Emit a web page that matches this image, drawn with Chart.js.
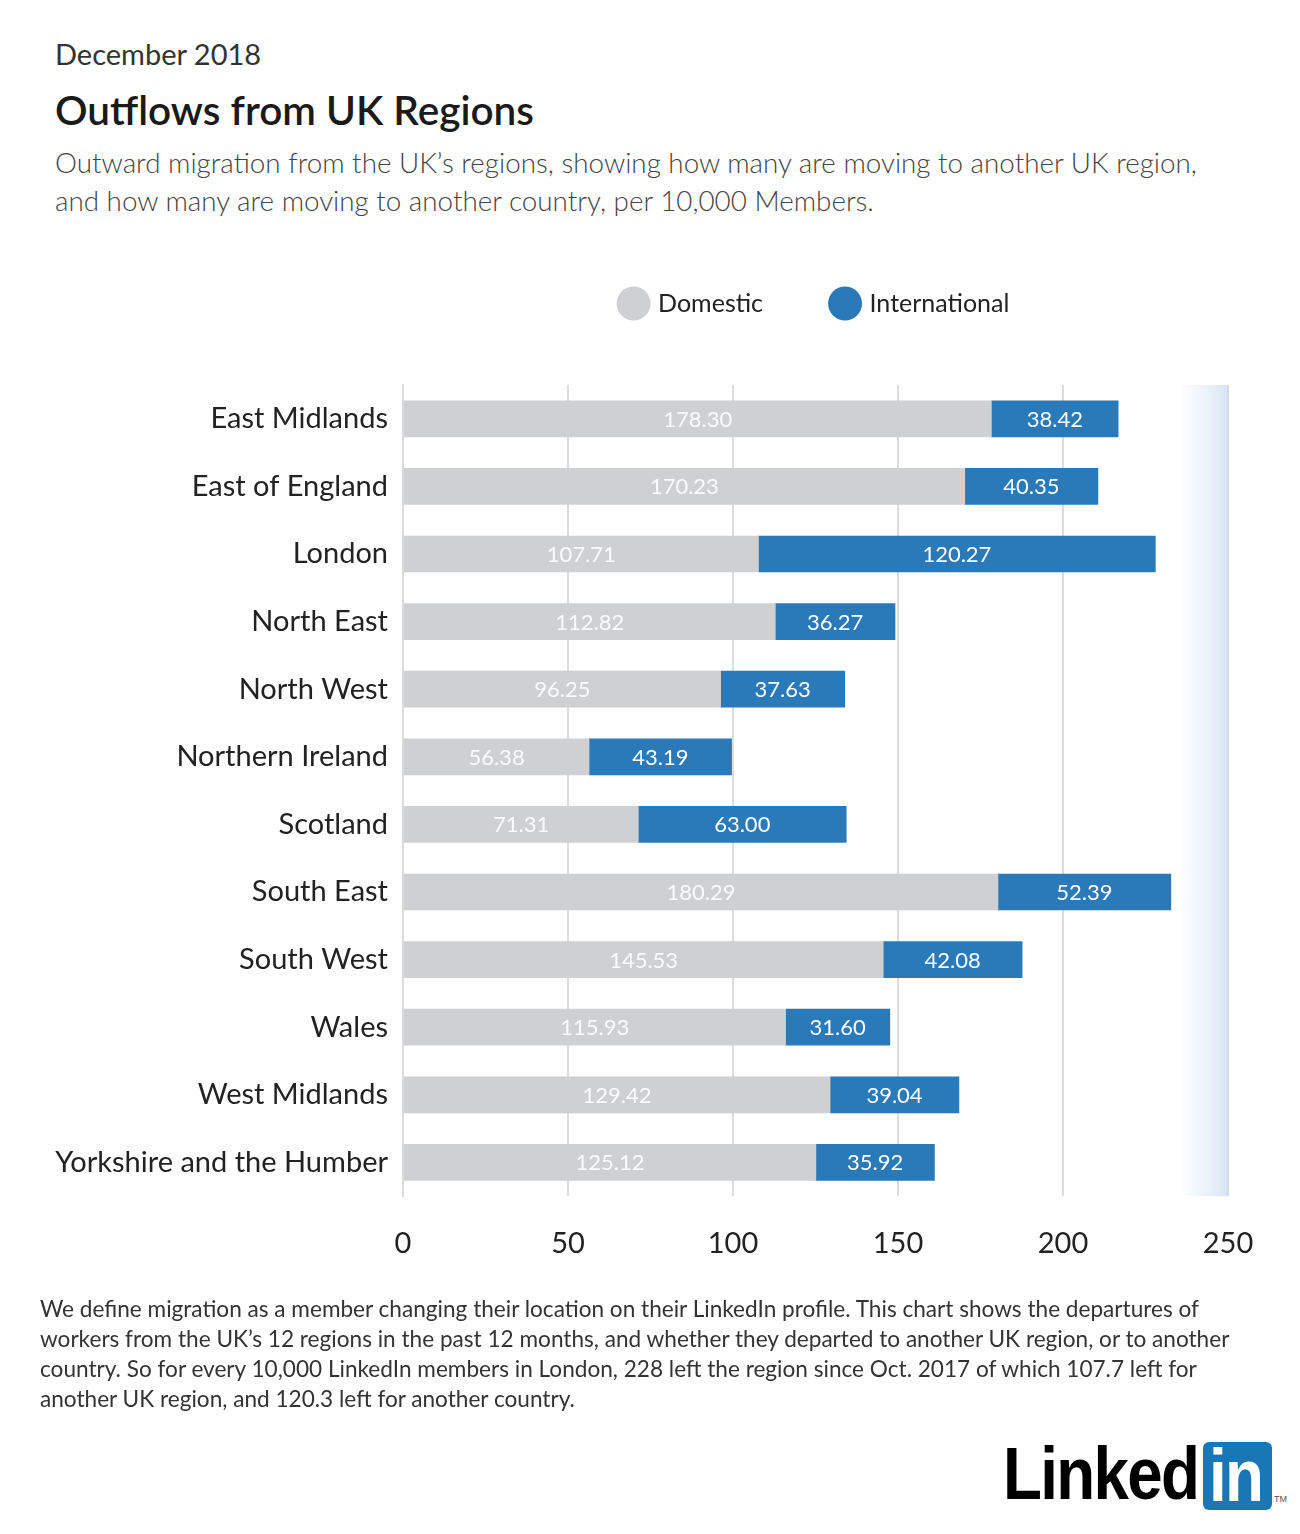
<!DOCTYPE html>
<html>
<head>
<meta charset="utf-8">
<script src="https://cdn.jsdelivr.net/npm/chart.js@4"></script>
<style>
  body { margin: 0; background: #fff; font-family: Lato, "Open Sans", sans-serif; color: #222; }
  #page { position: relative; width: 1300px; height: 1534px; overflow: hidden; }
  .txt { position: absolute; white-space: nowrap; }
  #date { left: 55px; top: 36px; font-size: 29px; color: #333; }
  #title { left: 55px; top: 85px; font-size: 40.5px; font-weight: 600; color: #1a1a1a; }
  #sub { left: 55px; top: 144px; font-size: 27.8px; line-height: 38px; color: #444; font-weight: 300; }
  #wrap { position: absolute; left: 0; top: 213px; width: 1300px; height: 1090px; }
  #foot { left: 40px; top: 1294px; font-size: 22.6px; line-height: 30px; color: #333; }
  #logo { position: absolute; left: 1000px; top: 1438px; height: 76px; }
  #logo .linked { position: absolute; left: 3px; top: -8px; font-family: "Liberation Sans", Arial, sans-serif; font-weight: bold; font-size: 75px; letter-spacing: -2px; color: #000; transform: scaleX(0.85); transform-origin: left top; }
  #logo .box { position: absolute; left: 203px; top: 4px; width: 69px; height: 68px; background: #1a77b5; border-radius: 6px; overflow: hidden; }
  #logo .box span { position: absolute; left: 6px; top: -10px; font-family: "Liberation Sans", Arial, sans-serif; font-weight: bold; font-size: 75px; color: #fff; letter-spacing: -2px; transform: scaleX(0.85); transform-origin: left top; }
  #logo .tm { position: absolute; left: 274px; top: 56px; font-family: "Liberation Sans", Arial, sans-serif; font-size: 9px; color: #555; }
</style>
</head>
<body>
<div id="page">
  <div class="txt" id="date">December 2018</div>
  <div class="txt" id="title">Outflows from UK Regions</div>
  <div class="txt" id="sub">Outward migration from the UK’s regions, showing how many are moving to another UK region,<br>and how many are moving to another country, per 10,000 Members.</div>
  <div id="wrap"><canvas id="chart"></canvas></div>
  <div class="txt" id="foot">We define migration as a member changing their location on their LinkedIn profile. This chart shows the departures of<br>workers from the UK’s 12 regions in the past 12 months, and whether they departed to another UK region, or to another<br>country. So for every 10,000 LinkedIn members in London, 228 left the region since Oct. 2017 of which 107.7 left for<br>another UK region, and 120.3 left for another country.</div>
  <div id="logo"><span class="linked">Linked</span><div class="box"><span>in</span></div><span class="tm">TM</span></div>
</div>
<script>
var regions = ['East Midlands', 'East of England', 'London', 'North East', 'North West', 'Northern Ireland',
               'Scotland', 'South East', 'South West', 'Wales', 'West Midlands', 'Yorkshire and the Humber'];
var domestic = [178.30, 170.23, 107.71, 112.82, 96.25, 56.38, 71.31, 180.29, 145.53, 115.93, 129.42, 125.12];
var international = [38.42, 40.35, 120.27, 36.27, 37.63, 43.19, 63.00, 52.39, 42.08, 31.60, 39.04, 35.92];
var xTicks = [0, 50, 100, 150, 200, 250];

// extra room between the legend and the bars
var legendGap = {
    id: 'legendGap',
    beforeUpdate: function (chart) {
        var lg = chart.legend;
        if (lg && !lg._gapPatched) {
            var fit = lg.fit;
            lg.fit = function () {
                fit.apply(this, arguments);
                this.height += 59;
            };
            lg._gapPatched = true;
        }
    }
};

// soft blue fade at the right side of the plot
var fadePlugin = {
    id: 'fade',
    beforeDatasetsDraw: function (chart) {
        var c = chart.ctx, a = chart.chartArea, x = chart.scales.x;
        var x0 = x.getPixelForValue(235), x1 = x.getPixelForValue(250);
        var g = c.createLinearGradient(x0, 0, x1, 0);
        g.addColorStop(0, 'rgba(215,230,245,0)');
        g.addColorStop(1, 'rgba(200,220,240,0.75)');
        c.save();
        c.fillStyle = g;
        c.fillRect(x0, a.top, x1 - x0, a.bottom - a.top);
        c.restore();
    }
};

// value labels in the middle of each bar
var valuePlugin = {
    id: 'values',
    afterDatasetsDraw: function (chart) {
        var c = chart.ctx;
        c.save();
        c.font = '22px Lato, "Open Sans", sans-serif';
        c.textAlign = 'center';
        c.textBaseline = 'middle';
        chart.data.datasets.forEach(function (ds, i) {
            chart.getDatasetMeta(i).data.forEach(function (bar, j) {
                c.fillStyle = i === 0 ? 'rgba(255,255,255,0.9)' : '#ffffff';
                c.fillText(ds.data[j].toFixed(2), (bar.x + bar.base) / 2, bar.y + 1);
            });
        });
        c.restore();
    }
};

var ctx = document.getElementById('chart').getContext('2d');
var chart = new Chart(ctx, {
    type: 'bar',
    data: {
        labels: regions,
        datasets: [{
            label: 'Domestic',
            data: domestic,
            backgroundColor: '#cfd0d2',
            barThickness: 36
        }, {
            label: 'International',
            data: international,
            backgroundColor: '#2a7aba',
            barThickness: 36
        }]
    },
    options: {
        indexAxis: 'y',
        responsive: true,
        maintainAspectRatio: false,
        animation: false,
        layout: { padding: { top: 8, right: 72, bottom: 12, left: 0 } },
        plugins: {
            legend: {
                fullSize: false,
                labels: {
                    usePointStyle: true,
                    pointStyle: 'circle',
                    boxWidth: 24,
                    boxHeight: 24,
                    padding: 70,
                    color: '#222',
                    font: { size: 25, family: 'Lato, "Open Sans", sans-serif' }
                }
            },
            tooltip: { enabled: false }
        },
        scales: {
            x: {
                stacked: true,
                min: 0,
                max: 250,
                afterBuildTicks: function (axis) {
                    axis.ticks = xTicks.map(function (v) { return { value: v }; });
                },
                grid: { color: '#dcdcdc', lineWidth: 2, drawTicks: false },
                border: { display: false },
                ticks: {
                    padding: 30,
                    color: '#222',
                    font: { size: 29, family: 'Lato, "Open Sans", sans-serif' }
                }
            },
            y: {
                stacked: true,
                afterFit: function (axis) { axis.width = 403; },
                grid: { display: false, drawTicks: false },
                border: { display: true, color: '#dcdcdc', width: 2 },
                ticks: {
                    padding: 15,
                    color: '#222',
                    font: { size: 29, family: 'Lato, "Open Sans", sans-serif' }
                }
            }
        }
    },
    plugins: [legendGap, fadePlugin, valuePlugin]
});
</script>
</body>
</html>
